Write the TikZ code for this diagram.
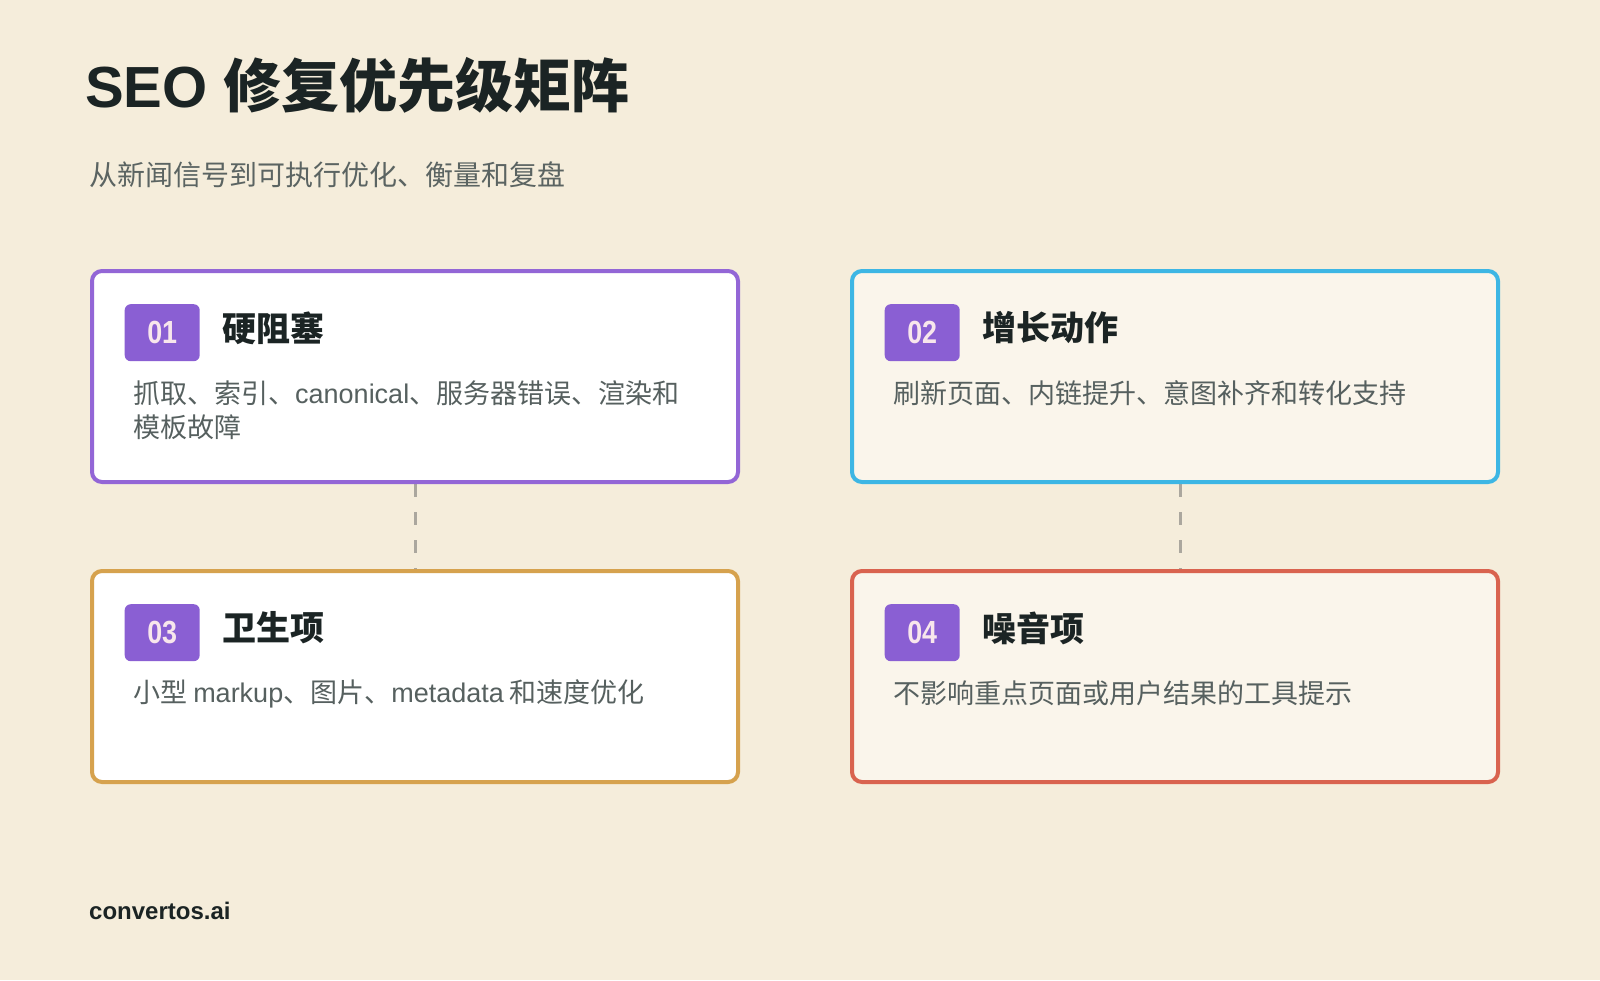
\documentclass[tikz,border=0pt]{standalone}
\usepackage{fontspec}
\setmainfont{Liberation Sans}
\newfontfamily\cjk{Noto Sans CJK SC}
\usetikzlibrary{backgrounds}
\definecolor{bgc}{HTML}{F5EDDB}
\definecolor{creamc}{HTML}{FAF5EB}
\definecolor{purplec}{HTML}{9366D6}
\definecolor{bluec}{HTML}{3DB6E4}
\definecolor{goldc}{HTML}{D6A24E}
\definecolor{redc}{HTML}{D9634F}
\definecolor{badgec}{HTML}{8A5FD3}
\definecolor{badgetxt}{HTML}{F8E6EC}
\definecolor{darkc}{HTML}{1B2424}
\definecolor{bodyc}{HTML}{56605F}
\definecolor{subc}{HTML}{5B6462}
\definecolor{connc}{HTML}{ABA79E}
\begin{document}
\begin{tikzpicture}[x=1pt,y=-1pt,
  card/.style={draw, line width=4pt, rounded corners=10pt, minimum width=646pt, minimum height=211pt, inner sep=0pt},
  badge/.style={fill=badgec, rounded corners=6pt, minimum width=75pt, minimum height=57pt, inner sep=0pt, text=badgetxt, font=\fontsize{32}{32}\selectfont\bfseries, anchor=north west},
  cardtitle/.style={anchor=west, inner sep=0pt, text=darkc, font=\cjk\fontsize{34}{36}\selectfont\bfseries},
  cardbody/.style={anchor=west, inner sep=0pt, text=bodyc, align=left, font=\cjk\fontsize{27}{34}\selectfont},
  conn/.style={draw=connc, line width=3pt, dash pattern=on 13pt off 15pt}
]
\begin{scope}[on background layer]
\fill[bgc] (0,0) rectangle (1600,980);
\end{scope}
\useasboundingbox (0,0) rectangle (1600,980);

\node[anchor=base west, inner sep=0pt, text=darkc, font=\fontsize{58}{60}\selectfont\bfseries] (title) at (85,107) {SEO {\cjk 修复优先级矩阵}};
\node[anchor=west, inner sep=0pt, text=subc, font=\cjk\fontsize{28}{32}\selectfont] (sub) at (89,174.5) {从新闻信号到可执行优化、衡量和复盘};

\node[card, draw=purplec, fill=white] (c1) at (415,376.5) {};
\node[card, draw=bluec, fill=creamc] (c2) at (1175,376.5) {};
\node[card, draw=goldc, fill=white] (c3) at (415,676.5) {};
\node[card, draw=redc, fill=creamc] (c4) at (1175,676.5) {};

\begin{scope}[on background layer]
\draw[conn] (c1.south) -- (c3.north);
\draw[conn] ([xshift=5pt]c2.south) -- ([xshift=5pt]c4.north);
\end{scope}

\node[badge] (b1) at ([shift={(34.5,35)}]c1.north west) {\scalebox{0.84}[1]{01}};
\node[badge] (b2) at ([shift={(34.5,35)}]c2.north west) {\scalebox{0.84}[1]{02}};
\node[badge] (b3) at ([shift={(34.5,35)}]c3.north west) {\scalebox{0.84}[1]{03}};
\node[badge] (b4) at ([shift={(34.5,35)}]c4.north west) {\scalebox{0.84}[1]{04}};

\node[cardtitle] (t1) at ([shift={(132,59)}]c1.north west) {硬阻塞};
\node[cardtitle] (t2) at ([shift={(132,59)}]c2.north west) {增长动作};
\node[cardtitle] (t3) at ([shift={(132,59)}]c3.north west) {卫生项};
\node[cardtitle] (t4) at ([shift={(132,59)}]c4.north west) {噪音项};

\node[cardbody, anchor=base west, text width=600pt] (d1) at ([shift={(43,134.5)}]c1.north west) {抓取、索引、{\rmfamily canonical}、服务器错误、渲染和\\模板故障};
\node[cardbody] (d2) at ([shift={(43,124.5)}]c2.north west) {刷新页面、内链提升、意图补齐和转化支持};
\node[cardbody] (d3) at ([shift={(43,124.5)}]c3.north west) {小型 {\rmfamily markup}、图片、{\rmfamily metadata} 和速度优化};
\node[cardbody] (d4) at ([shift={(43,124.5)}]c4.north west) {不影响重点页面或用户结果的工具提示};

\node[anchor=west, inner sep=0pt, text=darkc, font=\fontsize{24}{26}\selectfont\bfseries] (foot) at (89,911) {convertos.ai};
\end{tikzpicture}
\end{document}
